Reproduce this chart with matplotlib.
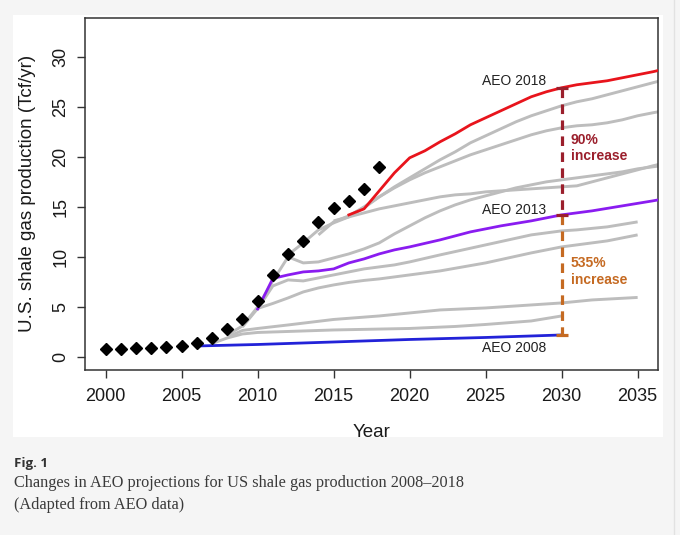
import numpy as np
import matplotlib
matplotlib.use("Agg")
import matplotlib.pyplot as plt
from matplotlib.patches import Rectangle
from matplotlib.lines import Line2D

plt.rcParams['font.family'] = ['Liberation Sans', 'DejaVu Sans']

# historical shale gas production (diamonds)
hist_years = list(range(2000, 2019))
hist_vals = [0.77, 0.8, 0.87, 0.9, 0.97, 1.1, 1.37, 1.87, 2.77, 3.77, 5.57,
             8.2, 10.3, 11.6, 13.5, 14.9, 15.6, 16.8, 19.0]

# AEO 2008 (blue)
aeo2008_years = [2006, 2010, 2015, 2020, 2025, 2030]
aeo2008_vals = [1.1, 1.25, 1.5, 1.75, 1.95, 2.2]

# AEO 2013 (purple)
aeo2013_years = [2010, 2011, 2012, 2013, 2014, 2015, 2016, 2017, 2018, 2019, 2020,
                 2022, 2024, 2026, 2028, 2030, 2032, 2034, 2036, 2040]
aeo2013_vals = [4.8, 7.85, 8.2, 8.5, 8.6, 8.8, 9.4, 9.8, 10.3, 10.7, 11.0,
                11.7, 12.5, 13.1, 13.6, 14.2, 14.6, 15.1, 15.6, 16.7]

# AEO 2018 (red)
aeo2018_years = [2016, 2017, 2018, 2019, 2020, 2021, 2022, 2023, 2024, 2025, 2026,
                 2027, 2028, 2029, 2030, 2031, 2032, 2033, 2034, 2035, 2036, 2040]
aeo2018_vals = [14.2, 14.8, 16.6, 18.4, 19.9, 20.6, 21.5, 22.3, 23.2, 23.9, 24.6,
                25.3, 26.0, 26.5, 26.9, 27.2, 27.4, 27.6, 27.9, 28.2, 28.5, 29.9]

# other AEO editions (gray)
gray_years = {
    "2009": [2007, 2008, 2009, 2010, 2012, 2015, 2020, 2023, 2025, 2028, 2030],
    "2010": [2008, 2009, 2010, 2012, 2015, 2018, 2020, 2022, 2025, 2028, 2030, 2032, 2035],
    "2011": [2009, 2010, 2011, 2012, 2013, 2014, 2015, 2016, 2017, 2018, 2019, 2020,
             2022, 2025, 2028, 2030, 2031, 2033, 2035],
    "2012": [2010, 2011, 2012, 2013, 2014, 2015, 2016, 2017, 2018, 2019, 2020,
             2022, 2025, 2028, 2030, 2031, 2033, 2035],
    "2014": [2008, 2009, 2010, 2011, 2012, 2013, 2014, 2015, 2016, 2017, 2018, 2019,
             2020, 2021, 2022, 2023, 2024, 2025, 2026, 2027, 2028, 2029, 2030,
             2031, 2032, 2033, 2034, 2035, 2036, 2040],
    "2015": [2012, 2013, 2014, 2015, 2016, 2017, 2018, 2019, 2020, 2021, 2022, 2023,
             2024, 2025, 2026, 2027, 2028, 2029, 2030, 2031, 2032, 2033, 2034,
             2035, 2036, 2040],
    "2016": [2014, 2015, 2016, 2017, 2018, 2019, 2020, 2021, 2022, 2023, 2024, 2025,
             2026, 2027, 2028, 2029, 2030, 2031, 2032, 2033, 2034, 2035, 2036, 2040],
    "2017": [2015, 2016, 2017, 2018, 2019, 2020, 2021, 2022, 2023, 2024, 2025, 2026,
             2027, 2028, 2029, 2030, 2031, 2032, 2033, 2034, 2035, 2036, 2040],
}
gray_vals = {
    "2009": [1.35, 1.9, 2.3, 2.45, 2.55, 2.7, 2.85, 3.05, 3.25, 3.6, 4.1],
    "2010": [2.0, 2.65, 2.85, 3.2, 3.75, 4.1, 4.4, 4.7, 4.9, 5.2, 5.4, 5.7, 5.95],
    "2011": [3.0, 4.85, 5.35, 5.9, 6.5, 6.9, 7.2, 7.45, 7.65, 7.8, 8.0, 8.2,
             8.6, 9.4, 10.4, 11.0, 11.2, 11.6, 12.2],
    "2012": [4.8, 7.1, 7.7, 7.6, 7.9, 8.2, 8.5, 8.8, 9.0, 9.2, 9.5,
             10.2, 11.2, 12.2, 12.6, 12.7, 13.0, 13.5],
    "2014": [2.2, 3.1, 5.0, 7.6, 10.0, 9.4, 9.5, 9.9, 10.3, 10.8, 11.4, 12.3,
             13.1, 13.9, 14.6, 15.2, 15.7, 16.1, 16.5, 16.9, 17.2, 17.5, 17.7,
             17.9, 18.1, 18.3, 18.5, 18.8, 19.0, 19.8],
    "2015": [10.2, 11.4, 12.7, 13.4, 14.0, 14.4, 14.8, 15.1, 15.4, 15.7, 16.0, 16.2,
             16.3, 16.5, 16.6, 16.7, 16.8, 16.9, 17.0, 17.1, 17.5, 17.9, 18.3,
             18.7, 19.1, 20.5],
    "2016": [12.2, 13.5, 14.1, 15.0, 16.0, 16.9, 17.7, 18.4, 19.0, 19.6, 20.2, 20.7,
             21.2, 21.7, 22.2, 22.6, 22.9, 23.1, 23.2, 23.4, 23.7, 24.1, 24.4, 25.5],
    "2017": [13.6, 14.0, 14.9, 16.0, 17.0, 17.9, 18.8, 19.7, 20.5, 21.4, 22.1, 22.8,
             23.5, 24.1, 24.6, 25.1, 25.5, 25.8, 26.2, 26.6, 27.0, 27.4, 29.0],
}

x_ticks = [2000, 2005, 2010, 2015, 2020, 2025, 2030, 2035]
y_ticks = [0, 5, 10, 15, 20, 25, 30]

fig = plt.figure(figsize=(6.8, 5.35), dpi=100)
fig.patch.set_facecolor('#f5f5f5')
# white image panel behind the chart
fig.patches.append(Rectangle((13/680, 1-437/535), 650/680, 422/535,
                             transform=fig.transFigure, facecolor='white',
                             edgecolor='none', zorder=-5))
fig.lines.append(Line2D([674/680, 674/680], [0, 1], transform=fig.transFigure,
                        color='#e2e2e2', lw=1, zorder=-5))

ax = fig.add_axes([84.7/680, 1-370/535, (658-84.7)/680, (370-17.7)/535])
ax.set_facecolor('white')

for k in gray_years:
    ax.plot(gray_years[k], gray_vals[k], color='#bdbdbd', lw=2.1, zorder=2,
            solid_capstyle='butt')
ax.plot(aeo2008_years, aeo2008_vals, color='#2222d8', lw=2.0, zorder=3)
ax.plot(aeo2013_years, aeo2013_vals, color='#8a1cf0', lw=2.0, zorder=3)
ax.plot(aeo2018_years, aeo2018_vals, color='#e8141c', lw=2.0, zorder=3)
ax.plot(hist_years, hist_vals, linestyle='none', marker='D', markersize=6.0,
        color='black', zorder=4)

# 2030 comparison bars
v18 = aeo2018_vals[aeo2018_years.index(2030)]
v13 = aeo2013_vals[aeo2013_years.index(2030)]
v08 = aeo2008_vals[aeo2008_years.index(2030)]
dark_red = '#9b1f2c'
orange = '#c56a22'
ax.plot([2030, 2030], [v18, v13], color=dark_red, lw=2.3, dashes=(3, 2), zorder=5)
ax.plot([2030, 2030], [v13, v08], color=orange, lw=2.3, dashes=(3, 2), zorder=5)
ax.plot([2030, 2030], [v18, v13], linestyle='none', marker='_', markersize=9,
        mew=2.3, color=dark_red, zorder=6)
ax.plot([2030], [v08], linestyle='none', marker='_', markersize=9,
        mew=2.3, color=orange, zorder=6)

ax.text(2026.9, 27.6, 'AEO 2018', ha='center', va='center', fontsize=10, color='#222222')
ax.text(2026.9, 14.7, 'AEO 2013', ha='center', va='center', fontsize=10, color='#222222')
ax.text(2026.9, 0.9, 'AEO 2008', ha='center', va='center', fontsize=10, color='#222222')
ax.text(2030.6, 20.9, '90%\nincrease', ha='left', va='center', fontsize=10,
        fontweight='bold', color=dark_red)
ax.text(2030.6, 8.55, '535%\nincrease', ha='left', va='center', fontsize=10,
        fontweight='bold', color=orange)

ax.set_xlim(1998.62, 2036.34)
ax.set_ylim(-1.3, 33.9)
ax.set_xticks(x_ticks)
ax.set_yticks(y_ticks)
ax.tick_params(axis='both', direction='out', length=6, width=1.0, color='#333333',
               labelsize=13, labelcolor='#1a1a1a')
ax.tick_params(axis='x', pad=7)
ax.tick_params(axis='y', pad=5)
for lab in ax.get_yticklabels():
    lab.set_rotation(90)
    lab.set_va('center')
for sp in ax.spines.values():
    sp.set_color('#333333')
    sp.set_linewidth(1.1)

ax.set_xlabel('Year', fontsize=13.5, color='#1a1a1a', labelpad=14)
ax.set_ylabel('U.S. shale gas production (Tcf/yr)', fontsize=13.5, color='#1a1a1a',
              labelpad=12)

fig.text(14/680, 1-463/535, 'Fig. 1', fontsize=9.5, fontweight='bold',
         family=['Open Sans', 'DejaVu Sans'], color='#333333', va='center')
fig.text(14/680, 1-483/535, 'Changes in AEO projections for US shale gas production 2008\u20132018',
         fontsize=11.7, family=['Liberation Serif', 'DejaVu Serif'], color='#3a3a3a', va='center')
fig.text(14/680, 1-505/535, '(Adapted from AEO data)', fontsize=11.7,
         family=['Liberation Serif', 'DejaVu Serif'], color='#3a3a3a', va='center')

fig.savefig('out.png', dpi=100, facecolor=fig.get_facecolor())
